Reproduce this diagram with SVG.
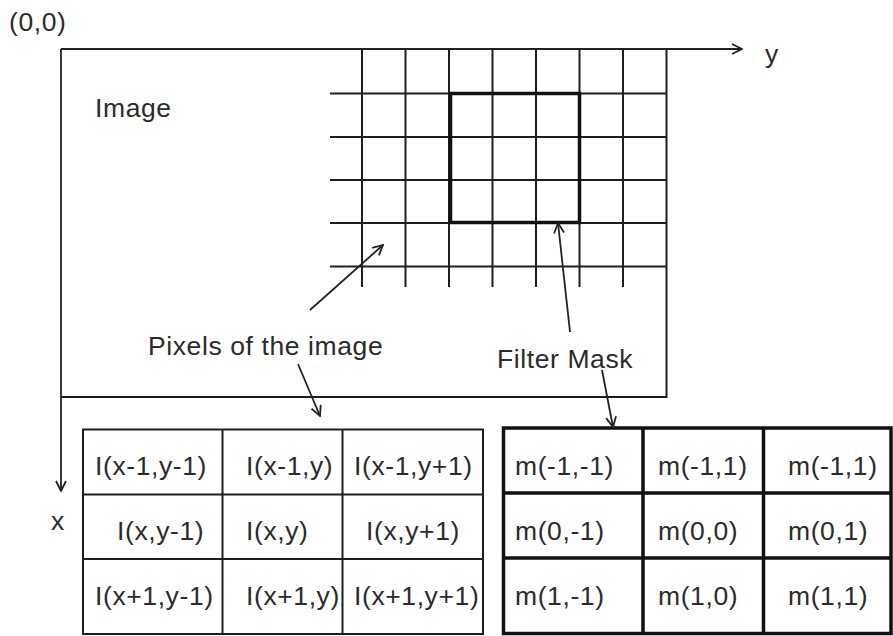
<svg xmlns="http://www.w3.org/2000/svg" width="893" height="636" viewBox="0 0 893 636">
<defs>
<style>
.t{font-family:"Liberation Sans",Arial,sans-serif;font-size:26.5px;fill:#2b2b2b;letter-spacing:0.6px}
.ln{stroke:#1e1e1e;stroke-width:2;fill:none}
.thk{stroke:#111;stroke-width:3.5;fill:none}
.arr{stroke:#222;stroke-width:1.8;fill:none;marker-end:url(#ah)}
</style>
<marker id="ah" viewBox="0 0 12 12" refX="11" refY="6" markerWidth="12" markerHeight="12" markerUnits="userSpaceOnUse" orient="auto">
<path d="M1,1 L11,6 L1,11" fill="none" stroke="#222" stroke-width="1.8"/>
</marker>
</defs>
<rect width="893" height="636" fill="#fff"/>

<g id="image">
<path class="ln" d="M666.5,49 V397 H61"/>
<text class="t" x="95" y="117">Image</text>
</g>

<g id="pixel-grid">
<path class="ln" d="M362,49V287 M405.5,49V287 M449,49V287 M492.5,49V287 M536,49V287 M579.5,49V287 M623,49V287"/>
<path class="ln" d="M330,93.5H666.5 M330,137H666.5 M330,180H666.5 M330,223H666.5 M330,266.5H666.5"/>
</g>

<g id="filter-mask">
<rect class="thk" x="450.5" y="93.5" width="129" height="129"/>
</g>

<g id="labels">
<text class="t" x="9" y="31">(0,0)</text>
<text class="t" x="765" y="63">y</text>
<text class="t" x="51" y="530">x</text>
<text class="t" x="148" y="355">Pixels of the image</text>
<text class="t" x="497" y="368">Filter Mask</text>
</g>

<g id="pixel-table">
<rect class="ln" x="83" y="429.5" width="400" height="204.5"/>
<path class="ln" d="M222.5,429.5V634 M342.5,429.5V634 M83,494.5H483 M83,559H483"/>
<text class="t" x="95" y="475">I(x-1,y-1)</text>
<text class="t" x="246" y="475">I(x-1,y)</text>
<text class="t" x="354" y="475">I(x-1,y+1)</text>
<text class="t" x="117" y="540">I(x,y-1)</text>
<text class="t" x="246" y="540">I(x,y)</text>
<text class="t" x="366" y="540">I(x,y+1)</text>
<text class="t" x="95" y="605">I(x+1,y-1)</text>
<text class="t" x="246" y="605">I(x+1,y)</text>
<text class="t" x="354" y="605">I(x+1,y+1)</text>
</g>

<g id="mask-table">
<rect class="thk" x="503.5" y="428" width="387.5" height="205.5"/>
<path class="thk" d="M643,428V633.5 M763.5,428V633.5 M503.5,493H891 M503.5,558H891"/>
<text class="t" x="515" y="475">m(-1,-1)</text>
<text class="t" x="658" y="475">m(-1,1)</text>
<text class="t" x="788" y="475">m(-1,1)</text>
<text class="t" x="515" y="540">m(0,-1)</text>
<text class="t" x="658" y="540">m(0,0)</text>
<text class="t" x="788" y="540">m(0,1)</text>
<text class="t" x="515" y="605">m(1,-1)</text>
<text class="t" x="658" y="605">m(1,0)</text>
<text class="t" x="788" y="605">m(1,1)</text>
</g>

<g id="connectors">
<path class="arr" d="M61,49 H742"/>
<path class="arr" d="M61,49 V491"/>
<path class="arr" d="M310,310 L383,245"/>
<path class="arr" d="M298,364 L320,416"/>
<path class="arr" d="M570,332 L558,223"/>
<path class="arr" d="M602,370 L613,427"/>
</g>
</svg>
